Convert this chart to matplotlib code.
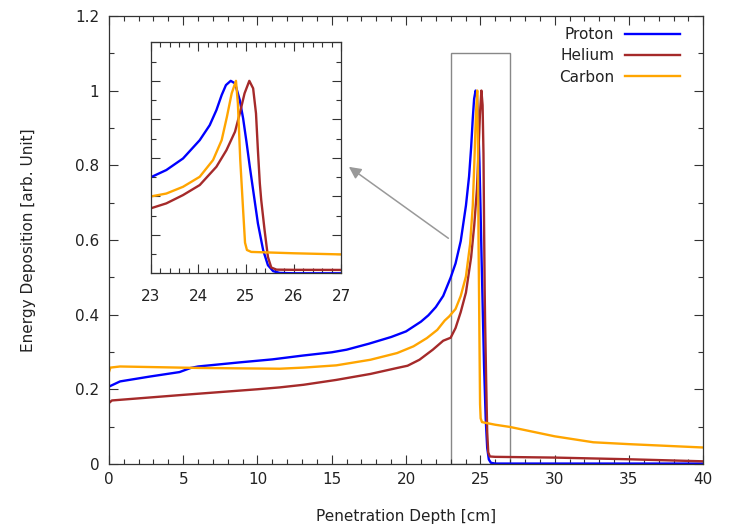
import numpy as np
import matplotlib
matplotlib.use('Agg')
import matplotlib.pyplot as plt
from matplotlib.patches import Rectangle
from matplotlib.ticker import MultipleLocator

# depth dose curves
proton_depth = [0, 0.75, 2.75, 4.75, 5.5, 6, 8.8, 11, 13, 15, 16, 17.5, 19, 20, 20.5, 21, 21.5, 22, 22.5,
                23, 23.33, 23.68, 24.03, 24.24, 24.38, 24.49, 24.58, 24.68, 24.77, 24.87, 24.94, 25.01,
                25.08, 25.15, 25.25, 25.36, 25.46, 25.57, 25.71, 26, 40]
proton_dose = [0.207, 0.221, 0.234, 0.246, 0.257, 0.261, 0.272, 0.280, 0.290, 0.299, 0.306, 0.322, 0.340, 0.355,
               0.368, 0.381, 0.398, 0.420, 0.450,
               0.499, 0.537, 0.597, 0.692, 0.770, 0.848, 0.926, 0.978, 1.0, 0.987, 0.90, 0.805, 0.684,
               0.554, 0.433, 0.260, 0.121, 0.043, 0.012, 0.003, 0.001, 0.001]

helium_depth = [0, 0.2, 5, 10, 11.5, 13.1, 15.3, 17.6, 19.4, 20.1, 20.9, 21.8, 22.5,
                23, 23.33, 23.68, 24.03, 24.38, 24.59, 24.77, 24.87, 24.97, 25.07, 25.15, 25.21, 25.25,
                25.29, 25.32, 25.39, 25.46, 25.53, 25.64, 26, 30, 35, 40]
helium_dose = [0.163, 0.170, 0.185, 0.200, 0.205, 0.212, 0.225, 0.241, 0.257, 0.263, 0.279, 0.306, 0.330,
               0.338, 0.364, 0.407, 0.459, 0.554, 0.640, 0.736, 0.831, 0.935, 1.0, 0.961, 0.831, 0.640,
               0.468, 0.380, 0.225, 0.086, 0.031, 0.020, 0.019, 0.017, 0.0125, 0.007]

carbon_depth = [0, 0.1, 0.75, 6.1, 11.5, 13.1, 15.3, 17.6, 19.4, 20.5, 21.4, 22.1, 22.6, 22.9,
                23.33, 23.68, 24.03, 24.31, 24.49, 24.6, 24.7, 24.79, 24.83, 24.88, 24.94, 24.98, 25.02,
                25.11, 26, 27, 30, 32.6, 35, 40]
carbon_dose = [0.246, 0.258, 0.261, 0.257, 0.255, 0.258, 0.264, 0.279, 0.297, 0.315, 0.337, 0.359, 0.384, 0.395,
               0.415, 0.450, 0.502, 0.589, 0.692, 0.813, 0.935, 1.0, 0.883, 0.589, 0.329, 0.160, 0.122,
               0.112, 0.105, 0.099, 0.074, 0.058, 0.053, 0.044]

series = [('Proton', proton_depth, proton_dose, '#0000ff'),
          ('Helium', helium_depth, helium_dose, '#a52a2a'),
          ('Carbon', carbon_depth, carbon_dose, '#ffa500')]

plt.rcParams['font.family'] = 'DejaVu Sans'
plt.rcParams['font.size'] = 11

fig = plt.figure(figsize=(7.31, 5.29), dpi=100)
ax = fig.add_axes([0.149, 0.123, 0.813, 0.847])


def style_ticks(a):
    a.tick_params(which='both', direction='in', top=True, right=True, colors='#333333', labelcolor='#222222')
    a.tick_params(which='major', length=6.5, width=0.8)
    a.tick_params(which='minor', length=3.3, width=0.8)
    for s in a.spines.values():
        s.set_color('#333333')
        s.set_linewidth(0.9)


for name, x, y, c in series:
    ax.plot(x, y, color=c, lw=1.7, label=name)

ax.set_xlim(0, 40)
ax.set_ylim(0, 1.2)
ax.xaxis.set_major_locator(MultipleLocator(5))
ax.xaxis.set_minor_locator(MultipleLocator(1))
ax.yaxis.set_minor_locator(MultipleLocator(0.1))
ax.set_yticks([0, 0.2, 0.4, 0.6, 0.8, 1.0, 1.2])
ax.set_yticklabels(['0', '0.2', '0.4', '0.6', '0.8', '1', '1.2'])
style_ticks(ax)
ax.tick_params(axis='x', which='major', pad=6)
ax.tick_params(axis='y', which='major', pad=7)
ax.set_xlabel('Penetration Depth [cm]', color='#222222', labelpad=16)
ax.set_ylabel('Energy Deposition [arb. Unit]', color='#222222', labelpad=28)

# zoom box and arrow
ax.add_patch(Rectangle((23, 0), 4, 1.1, fill=False, edgecolor='#888888', lw=1, zorder=1))
ax.annotate('', xy=(16, 0.8), xytext=(23, 0.6),
            arrowprops=dict(arrowstyle='-|>', color='#999999', lw=1.1, mutation_scale=18))

leg = ax.legend(loc='upper right', bbox_to_anchor=(0.930, 0.949), bbox_transform=fig.transFigure,
                frameon=False, markerfirst=False, borderpad=0, borderaxespad=0,
                handlelength=3.6, handletextpad=0.7, labelspacing=0.42)
for t in leg.get_texts():
    t.set_color('#222222')

# inset
ins = fig.add_axes([0.206, 0.483, 0.261, 0.437])
for name, x, y, c in series:
    ins.plot(x, y, color=c, lw=1.7)
ins.set_xlim(23, 27)
ins.set_ylim(0, 1.2)
ins.xaxis.set_major_locator(MultipleLocator(1))
ins.xaxis.set_minor_locator(MultipleLocator(0.2))
ins.yaxis.set_major_locator(MultipleLocator(0.2))
ins.yaxis.set_minor_locator(MultipleLocator(0.1))
style_ticks(ins)
ins.tick_params(axis='y', which='both', labelleft=False)
ins.tick_params(axis='x', which='major', pad=11)

fig.savefig('out.png', dpi=100)
